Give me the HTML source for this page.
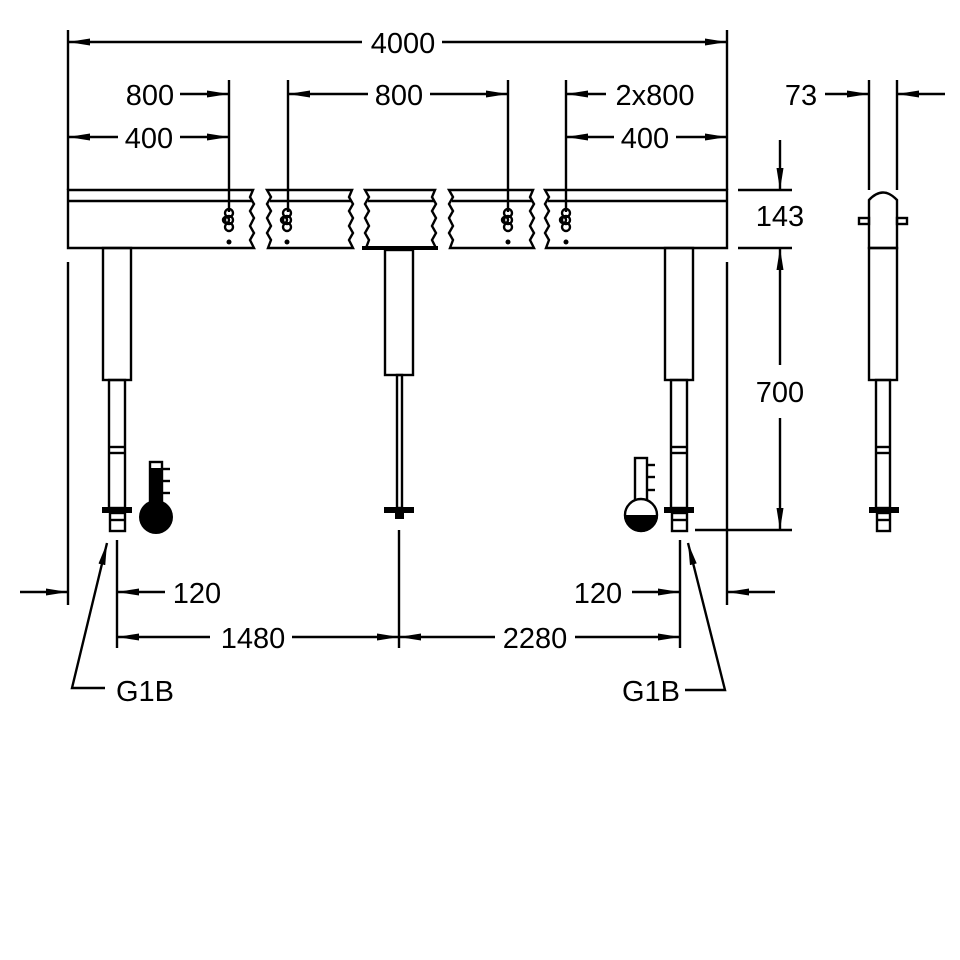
<!DOCTYPE html>
<html><head><style>body{margin:0;background:#fff}svg{display:block}text{font-family:"Liberation Sans",sans-serif;font-size:29px;fill:#000}</style></head>
<body>
<svg width="960" height="960" viewBox="0 0 960 960" xmlns="http://www.w3.org/2000/svg">
<defs>
<marker id="a" viewBox="0 0 22 10" refX="22" refY="5" markerWidth="22" markerHeight="10" markerUnits="userSpaceOnUse" orient="auto-start-reverse"><path d="M0,1.5 L22,5 L0,8.5 Z" fill="#000"/></marker>
</defs>
<g stroke="#000" stroke-width="2.4" fill="none">
<line x1="68" y1="30" x2="68" y2="190"/><line x1="68" y1="262" x2="68" y2="605"/>
<line x1="727" y1="30" x2="727" y2="190"/><line x1="727" y1="262" x2="727" y2="605"/>
<line x1="229" y1="80" x2="229" y2="212"/><line x1="288" y1="80" x2="288" y2="212"/>
<line x1="508" y1="80" x2="508" y2="212"/><line x1="566" y1="80" x2="566" y2="212"/>
<line x1="869" y1="80" x2="869" y2="190"/><line x1="897" y1="80" x2="897" y2="190"/>
<line x1="738" y1="190" x2="792" y2="190"/><line x1="738" y1="248" x2="792" y2="248"/><line x1="695" y1="530" x2="792" y2="530"/>
<line x1="117" y1="540" x2="117" y2="648"/><line x1="399" y1="530" x2="399" y2="648"/><line x1="680" y1="540" x2="680" y2="648"/>
<line x1="68" y1="42" x2="362" y2="42" marker-start="url(#a)"/><line x1="442" y1="42" x2="727" y2="42" marker-end="url(#a)"/>
<line x1="180" y1="94" x2="229" y2="94" marker-end="url(#a)"/>
<line x1="288" y1="94" x2="368" y2="94" marker-start="url(#a)"/><line x1="430" y1="94" x2="508" y2="94" marker-end="url(#a)"/>
<line x1="566" y1="94" x2="606" y2="94" marker-start="url(#a)"/>
<line x1="68" y1="137" x2="118" y2="137" marker-start="url(#a)"/><line x1="180" y1="137" x2="229" y2="137" marker-end="url(#a)"/>
<line x1="566" y1="137" x2="614" y2="137" marker-start="url(#a)"/><line x1="676" y1="137" x2="727" y2="137" marker-end="url(#a)"/>
<line x1="825" y1="94" x2="869" y2="94" marker-end="url(#a)"/><line x1="945" y1="94" x2="897" y2="94" marker-end="url(#a)"/>
<line x1="780" y1="140" x2="780" y2="190" marker-end="url(#a)"/>
<line x1="780" y1="248" x2="780" y2="365" marker-start="url(#a)"/><line x1="780" y1="418" x2="780" y2="530" marker-end="url(#a)"/>
<line x1="20" y1="592" x2="68" y2="592" marker-end="url(#a)"/><line x1="165" y1="592" x2="117" y2="592" marker-end="url(#a)"/>
<line x1="632" y1="592" x2="680" y2="592" marker-end="url(#a)"/><line x1="775" y1="592" x2="727" y2="592" marker-end="url(#a)"/>
<line x1="117" y1="637" x2="210" y2="637" marker-start="url(#a)"/><line x1="292" y1="637" x2="399" y2="637" marker-end="url(#a)"/>
<line x1="399" y1="637" x2="495" y2="637" marker-start="url(#a)"/><line x1="575" y1="637" x2="680" y2="637" marker-end="url(#a)"/>
<polyline points="105,688 72,688 107,543" marker-end="url(#a)"/>
<polyline points="685,690 725,690 688,543" marker-end="url(#a)"/>
<path d="M68,190 H253 l-3,7 4,7 -4,7 4,7 -4,8 4,7 -4,7 4,8 H68 Z"/>
<line x1="68" y1="201" x2="252" y2="201"/>
<path d="M268,190 H352 l-3,7 4,7 -4,7 4,7 -4,8 4,7 -4,7 4,8 H268 l3,-8 -4,-7 4,-7 -4,-8 4,-7 -4,-7 4,-7 -4,-7Z"/>
<line x1="270" y1="201" x2="351" y2="201"/>
<path d="M366,190 H435 l-3,7 4,7 -4,7 4,7 -4,8 4,7 -4,7 4,8 H366 l3,-8 -4,-7 4,-7 -4,-8 4,-7 -4,-7 4,-7 -4,-7Z"/>
<line x1="368" y1="201" x2="434" y2="201"/>
<path d="M450,190 H533 l-3,7 4,7 -4,7 4,7 -4,8 4,7 -4,7 4,8 H450 l3,-8 -4,-7 4,-7 -4,-8 4,-7 -4,-7 4,-7 -4,-7Z"/>
<line x1="452" y1="201" x2="532" y2="201"/>
<path d="M546,190 H727 V248 H546 l3,-8 -4,-7 4,-7 -4,-8 4,-7 -4,-7 4,-7 -4,-7Z"/>
<line x1="548" y1="201" x2="727" y2="201"/>
<g id="h"><circle cx="229" cy="213" r="4"/><circle cx="229" cy="220" r="4"/><circle cx="229" cy="227" r="4"/><circle cx="226" cy="220" r="3"/></g>
<use href="#h" x="58"/><use href="#h" x="279"/><use href="#h" x="337"/>
<rect x="103" y="248" width="28" height="132"/><rect x="109" y="380" width="16" height="128"/><line x1="109" y1="447" x2="125" y2="447"/><line x1="109" y1="453" x2="125" y2="453"/>
<rect x="110" y="513" width="15" height="18"/><line x1="110" y1="520" x2="125" y2="520"/>
<rect x="665" y="248" width="28" height="132"/><rect x="671" y="380" width="16" height="128"/><line x1="671" y1="447" x2="687" y2="447"/><line x1="671" y1="453" x2="687" y2="453"/>
<rect x="672" y="513" width="15" height="18"/><line x1="672" y1="520" x2="687" y2="520"/>
<rect x="385" y="250" width="28" height="125"/><rect x="397" y="375" width="5" height="133"/>
<path d="M869,248 V200 Q883,185 897,200 V248 Z"/><rect x="869" y="248" width="28" height="132"/>
<rect x="859" y="218" width="10" height="6"/><rect x="897" y="218" width="10" height="6"/>
<rect x="876" y="380" width="14" height="128"/><line x1="876" y1="447" x2="890" y2="447"/><line x1="876" y1="453" x2="890" y2="453"/>
<rect x="877" y="513" width="13" height="18"/><line x1="877" y1="520" x2="890" y2="520"/>
<rect x="150" y="462" width="12" height="40"/><line x1="162" y1="469" x2="170" y2="469"/><line x1="162" y1="481" x2="170" y2="481"/><line x1="162" y1="493" x2="170" y2="493"/>
<rect x="635" y="458" width="12" height="46"/><line x1="647" y1="465" x2="655" y2="465"/><line x1="647" y1="477" x2="655" y2="477"/><line x1="647" y1="490" x2="655" y2="490"/>
<circle cx="641" cy="515" r="16" fill="#fff"/>
</g>
<g fill="#000">
<rect x="102" y="507" width="30" height="6"/><rect x="664" y="507" width="30" height="6"/><rect x="869" y="507" width="30" height="6"/>
<rect x="384" y="507" width="30" height="6"/><rect x="395" y="513" width="9" height="6"/>
<rect x="362" y="246" width="76" height="4"/>
<circle cx="229" cy="242" r="2.5"/><circle cx="287" cy="242" r="2.5"/><circle cx="508" cy="242" r="2.5"/><circle cx="566" cy="242" r="2.5"/>
<rect x="151" y="468" width="11" height="40"/><circle cx="156" cy="517" r="17"/>
<path d="M624,515 A17,17 0 0 0 658,515 Z"/>
</g>
<g text-anchor="middle">
<text x="403" y="53">4000</text>
<text x="150" y="105">800</text><text x="399" y="105">800</text><text x="655" y="105">2x800</text>
<text x="149" y="148">400</text><text x="645" y="148">400</text>
<text x="801" y="105">73</text><text x="780" y="226">143</text><text x="780" y="402">700</text>
<text x="197" y="603">120</text><text x="598" y="603">120</text>
<text x="253" y="648">1480</text><text x="535" y="648">2280</text>
<text x="145" y="701">G1B</text><text x="651" y="701">G1B</text>
</g>
</svg>
</body></html>
